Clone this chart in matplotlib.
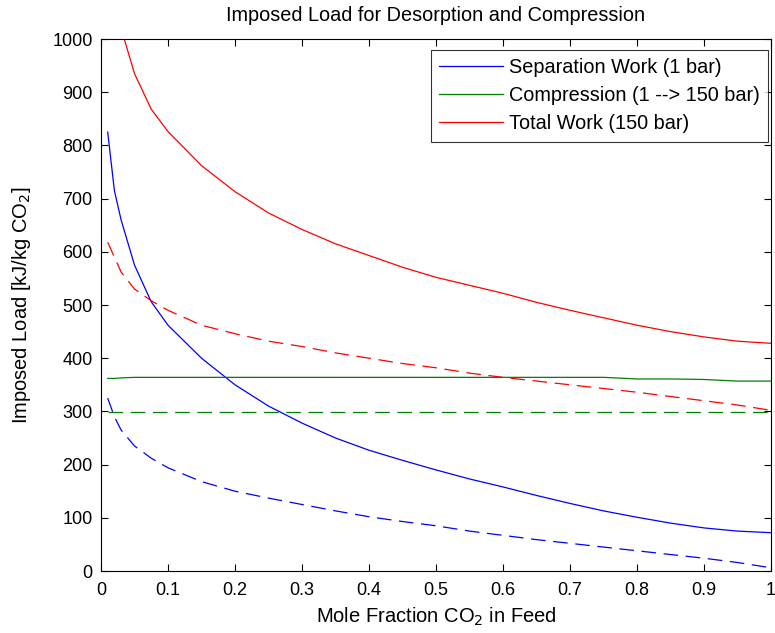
import matplotlib
matplotlib.use("Agg")
import matplotlib.pyplot as plt

plt.rcParams["font.family"] = ["Liberation Sans", "DejaVu Sans"]
plt.rcParams["lines.scale_dashes"] = False

# mole fraction CO2 in feed
x = [0.01, 0.02, 0.03, 0.05, 0.075, 0.1, 0.15, 0.2, 0.25, 0.3, 0.35, 0.4,
     0.45, 0.5, 0.55, 0.6, 0.65, 0.7, 0.75, 0.8, 0.85, 0.9, 0.95, 1.0]

# separation work, 1 bar (solid / dashed case)
sep_solid = [825, 715, 660, 575, 506, 462, 400, 350, 310, 278, 250, 227,
             208, 190, 173, 158, 142, 127, 113, 101, 90, 81, 75, 72]
sep_dash = [325, 290, 265, 235, 212, 194, 168, 150, 137, 125, 113, 102,
            93, 85, 75, 67, 59, 52, 45, 38, 31, 24, 16, 6]

# compression 1 -> 150 bar
comp_solid = [362, 362, 363, 364, 364, 364, 364, 364, 364, 364, 364, 364,
              364, 364, 364, 364, 364, 364, 364, 361, 361, 360, 357, 357]
comp_dash = [298] * 24

# total work, 150 bar
tot_solid = [1187, 1080, 1020, 935, 868, 826, 762, 713, 673, 642, 615, 593,
             571, 552, 537, 522, 505, 490, 476, 462, 450, 440, 432, 428]
tot_dash = [618, 590, 562, 530, 508, 490, 462, 446, 432, 422, 410, 400,
            390, 382, 372, 364, 357, 350, 343, 336, 328, 320, 312, 302]

labels = ["Separation Work (1 bar)", "Compression (1 --> 150 bar)", "Total Work (150 bar)"]

fig = plt.figure(figsize=(7.75, 6.33), dpi=100)
ax = fig.add_axes([101 / 775, 62 / 633, 670 / 775, 532 / 633])

lw = 0.9
dash = (0, (10.5, 5.5))
ax.plot(x, sep_solid, color="#0000ff", lw=lw, label=labels[0])
ax.plot(x, comp_solid, color="#008000", lw=lw, label=labels[1])
ax.plot(x, tot_solid, color="#ff0000", lw=lw, label=labels[2])
ax.plot(x, sep_dash, color="#0000ff", lw=lw, linestyle=dash)
ax.plot(x, comp_dash, color="#008000", lw=lw, linestyle=dash)
ax.plot(x, tot_dash, color="#ff0000", lw=lw, linestyle=dash)

ax.set_xlim(0, 1)
ax.set_ylim(0, 1000)
ax.set_xticks([i / 10 for i in range(11)])
ax.set_xticklabels(["0"] + [f"{i / 10:.1f}" for i in range(1, 10)] + ["1"])
ax.set_yticks(range(0, 1001, 100))
ax.tick_params(direction="in", length=5, width=0.8, top=True, right=True,
               labelsize=13, colors="black")
ax.tick_params(axis="y", pad=6)
ax.tick_params(axis="x", pad=8)
for s in ax.spines.values():
    s.set_linewidth(0.8)

ax.set_title("Imposed Load for Desorption and Compression", fontsize=14.3, pad=13)
ax.set_xlabel("Mole Fraction CO$_2$ in Feed", fontsize=14.5, labelpad=5)
ax.set_ylabel("Imposed Load [kJ/kg CO$_2$]", fontsize=14.5, labelpad=14)

leg = ax.legend(loc="upper right", bbox_to_anchor=(768 / 775, 1 - 50 / 633),
                bbox_transform=fig.transFigure, borderaxespad=0,
                fontsize=14.3, frameon=True, fancybox=False,
                edgecolor="black", handlelength=3.2,
                handletextpad=0.3, labelspacing=0.45, borderpad=0.42)
leg.get_frame().set_linewidth(0.8)

fig.savefig("out.png", dpi=100)
